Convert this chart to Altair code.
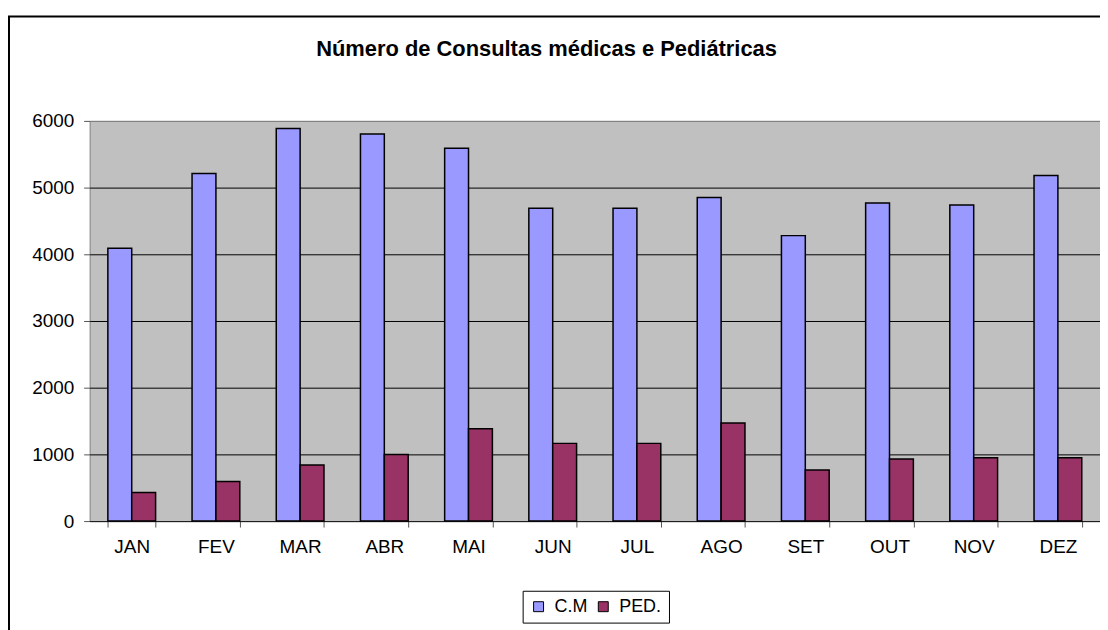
import altair as alt
import pandas as pd

meses = ["JAN", "FEV", "MAR", "ABR", "MAI", "JUN", "JUL", "AGO", "SET", "OUT", "NOV", "DEZ"]
cm = [4090, 5210, 5885, 5805, 5590, 4690, 4690, 4850, 4280, 4770, 4740, 5180]
ped = [430, 595, 840, 1000, 1385, 1165, 1165, 1470, 765, 930, 950, 950]
series = ["C.M", "PED."]
colors = ["#9999FF", "#993366"]
y_ticks = [0, 1000, 2000, 3000, 4000, 5000, 6000]
titulo = "Número de Consultas médicas e Pediátricas"

rows = []
for m, a, b in zip(meses, cm, ped):
    rows.append({"mes": m, "serie": series[0], "valor": a})
    rows.append({"mes": m, "serie": series[1], "valor": b})
df = pd.DataFrame(rows)

FONT = "Liberation Sans"
FS = 19

bars = alt.Chart(df).mark_bar(stroke="black", strokeWidth=1.5, opacity=1).encode(
    x=alt.X("mes:N", sort=meses, title=None,
            scale=alt.Scale(paddingInner=0.433, paddingOuter=0.2165),
            axis=alt.Axis(labelAngle=0, labelFontSize=FS, labelFont=FONT, labelColor="black",
                          labelPadding=11, tickSize=6, tickColor="#555555", tickBand="extent",
                          domainColor="#222222", domainWidth=1, grid=False)),
    xOffset=alt.XOffset("serie:N", sort=series,
                        scale=alt.Scale(paddingInner=0, paddingOuter=0)),
    y=alt.Y("valor:Q", title=None,
            scale=alt.Scale(domain=[0, 6000], nice=False),
            axis=alt.Axis(values=y_ticks, format="d", labelFontSize=FS, labelFont=FONT,
                          labelColor="black", labelPadding=10, tickSize=6, tickColor="#555555",
                          domain=False, grid=True,
                          gridColor={"condition": {"test": "datum.value >= 6000", "value": "#808080"},
                                     "value": "#000000"},
                          gridWidth=1)),
    color=alt.Color("serie:N", sort=series,
                    scale=alt.Scale(domain=series, range=colors),
                    legend=alt.Legend(orient="none", legendX=435, legendY=472,
                                      direction="horizontal", columns=2, title=None,
                                      symbolType="square", symbolSize=100,
                                      symbolStrokeColor="black", symbolStrokeWidth=1,
                                      symbolOpacity=1,
                                      labelFontSize=18, labelFont=FONT, labelColor="black",
                                      labelOffset=7, columnPadding=7, padding=7,
                                      strokeColor="black", fillColor="white")),
)

frame_df = pd.DataFrame({"k": [0]})
frame_left = alt.Chart(frame_df).mark_rule(color="black", strokeWidth=2).encode(
    x=alt.value(-81), y=alt.value(-105), y2=alt.value(520)
)
frame_top = alt.Chart(frame_df).mark_rule(color="black", strokeWidth=2).encode(
    x=alt.value(-82), x2=alt.value(1020), y=alt.value(-105)
)

title_df = pd.DataFrame({"t": [titulo]})
title_mark = alt.Chart(title_df).mark_text(
    font=FONT, fontSize=22, fontWeight="bold", color="black",
    align="center", baseline="alphabetic"
).encode(
    x=alt.value(459), y=alt.value(-65), text="t:N"
)

chart = alt.layer(bars, frame_left, frame_top, title_mark).properties(
    width=1015,
    height=402,
    padding={"left": 82, "top": 112, "right": 0, "bottom": 108},
    autosize=alt.AutoSizeParams(type="none"),
).configure(
    font=FONT, background="white"
).configure_view(
    fill="#C0C0C0", stroke="#808080", strokeWidth=1
)

chart.save("out.html", embed_options={"renderer": "svg", "actions": False})
